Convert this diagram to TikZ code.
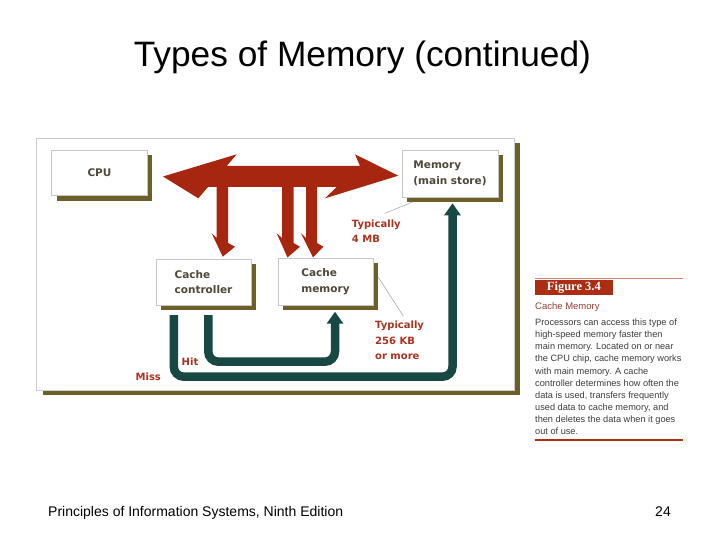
\documentclass[tikz,border=0pt]{standalone}
\usepackage{fontspec}
\setmainfont{Liberation Sans}
\newfontfamily\djfont{DejaVu Sans}
\newfontfamily\serfont{Liberation Serif}
\usetikzlibrary{arrows.meta}
\definecolor{arrred}{RGB}{166,38,16}
\definecolor{tealc}{RGB}{24,72,68}
\definecolor{olivec}{RGB}{108,96,40}
\definecolor{boxtext}{RGB}{77,72,55}
\definecolor{lblred}{RGB}{170,50,30}
\definecolor{capred}{RGB}{150,60,50}
\definecolor{figred}{RGB}{170,45,20}
\definecolor{lightred}{RGB}{215,130,110}
\definecolor{bodytext}{RGB}{60,60,60}
\tikzset{
  unitbox/.style={rectangle, fill=white, draw=gray!45, line width=0.6pt, inner sep=0pt,
    minimum width=95pt, minimum height=46pt, align=left, text=boxtext,
    font=\djfont\bfseries\fontsize{10.5}{15.5}\selectfont,
    preaction={fill=olivec, draw=none, transform canvas={xshift=5pt,yshift=-5pt}}},
  redlabel/.style={text=lblred, inner sep=0pt, align=left, font=\djfont\bfseries\fontsize{10}{15.3}\selectfont},
  tealline/.style={draw=tealc, line width=8.5pt, rounded corners=10pt, -{Triangle[width=16pt,length=12pt]}},
  leader/.style={draw=gray!75, line width=0.5pt},
  bodyline/.style={anchor=base west, inner sep=0pt, text=bodytext, font=\fontsize{9.2}{11}\selectfont}
}
\begin{document}
\begin{tikzpicture}[x=1pt,y=-1pt]
\useasboundingbox (0,0) rectangle (720,540);
% title
\node (title) [anchor=base, inner sep=0pt, font=\fontsize{35.3}{40}\selectfont] at (362.4,67) {Types of Memory (continued)};
% outer frame
\fill[olivec] (42.7,143.3) rectangle (520,395);
\draw[fill=white, draw=gray!40, line width=0.6pt] (36.7,138.3) rectangle (514,390);
% red bus arrow
\fill[arrred] (163,176.5) -- (236.7,154.3) -- (226.7,166) -- (360,166) -- (355,154.3) -- (398.3,175.7)
  -- (325,198.3) -- (336.7,187) -- (208,187) -- (198.3,198.3) -- cycle;
\fill[arrred] (216.7,180) -- (228,180) -- (228,243) -- (235,246.7) -- (222.7,256.7) -- (211.7,233.3) -- (216.7,238) -- cycle;
\fill[arrred] (282,180) -- (293.5,180) -- (293.5,243) -- (300,246.7) -- (287.5,257.5) -- (276.7,233.3) -- (282,238) -- cycle;
\fill[arrred] (306,180) -- (317,180) -- (317,243) -- (323.3,246.7) -- (313,257.5) -- (301,233.3) -- (306,238) -- cycle;
% boxes
\node (cpu) [unitbox, minimum width=95.6pt, minimum height=45.7pt] at (99.5,172.9) {CPU};
\node (mem) [unitbox, minimum width=96pt, minimum height=47pt] at (450,173.5) {Memory\\(main store)};
\node (cc) [unitbox, minimum width=95pt, minimum height=46pt] at (203.5,282) {Cache\\controller};
\node (cm) [unitbox, minimum width=95pt, minimum height=47pt] at (325.5,281.5) {Cache\\memory};
% teal arrows
\coordinate (missS) at (173.8,315);
\coordinate (missE) at (452.5,203.3);
\coordinate (hitS) at (208.3,315);
\coordinate (hitE) at (335,311.7);
\draw[tealline] (missS) -- (173.8,376.7) -- (452.5,376.7) -- (missE);
\draw[tealline] (hitS) -- (208.3,361.7) -- (335,361.7) -- (hitE);
\node (hit) [redlabel] at (190,361.7) {Hit};
\node (miss) [redlabel] at (148.3,376.5) {Miss};
% annotations
\node (t4) [redlabel, anchor=west] at (351.7,231) {Typically\\4 MB};
\node (t256) [redlabel, anchor=west] at (375,340.5) {Typically\\256 KB\\or more};
\coordinate (l1a) at (385,213.3);
\coordinate (l1b) at (413.3,201.7);
\draw[leader] (l1a) -- (l1b);
\coordinate (l2a) at (378.3,277.3);
\coordinate (l2b) at (403.3,316);
\draw[leader] (l2a) -- (l2b);
% caption panel
\draw[lightred, line width=1pt] (535,278.3) -- (683.3,278.3);
\node (figbox) [fill=figred, inner sep=0pt, minimum width=77.3pt, minimum height=15pt, anchor=north west,
  text=white, font=\serfont\bfseries\fontsize{12.5}{14}\selectfont] at (535,280) {Figure 3.4};
\node (capt) [anchor=base west, inner sep=0pt, text=capred, font=\fontsize{9.5}{11}\selectfont] at (535,309.5) {Cache Memory};
\foreach \t [count=\i from 0] in {{Processors can access this type of},{high-speed memory faster then},{main memory. Located on or near},{the CPU chip, cache memory works},{with main memory. A cache},{controller determines how often the},{data is used, transfers frequently},{used data to cache memory, and},{then deletes the data when it goes},{out of use.}}
  \node (p\i) [bodyline] at (535,{325.6+12.1*\i}) {\t};
\draw[figred, line width=1.5pt] (535,440) -- (683.3,440);
% footer
\node (foot) [anchor=base west, inner sep=0pt, font=\fontsize{14}{16}\selectfont] at (48,516) {Principles of Information Systems, Ninth Edition};
\node (pg) [anchor=base east, inner sep=0pt, font=\fontsize{14}{16}\selectfont] at (671,516) {24};
\end{tikzpicture}
\end{document}
